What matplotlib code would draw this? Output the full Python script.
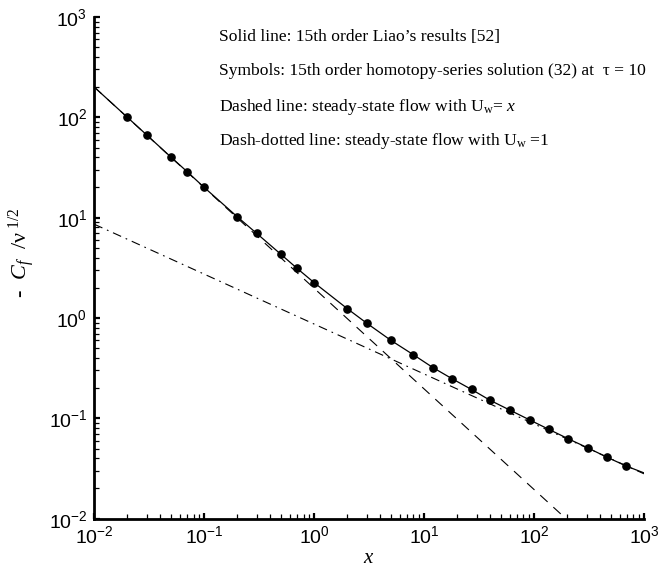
import matplotlib
matplotlib.use("Agg")
import matplotlib.pyplot as plt
from matplotlib.ticker import LogLocator, NullFormatter

plt.rcParams["font.family"] = ["Liberation Sans", "DejaVu Sans"]
plt.rcParams["mathtext.fontset"] = "custom"
plt.rcParams["mathtext.rm"] = "Liberation Serif"
plt.rcParams["mathtext.it"] = "Liberation Serif:italic"
plt.rcParams["axes.unicode_minus"] = False

# symbols: 15th order homotopy-series solution
sym_x = [0.02, 0.03, 0.05, 0.07, 0.1, 0.2, 0.3, 0.5, 0.7, 1.0,
         2, 3, 5, 8, 12, 18, 27, 40, 61, 91, 137, 205, 308, 461, 692]
sym_y = [100, 66.7, 40, 28.7, 20, 10.2, 6.97, 4.3, 3.12, 2.25,
         1.24, 0.89, 0.598, 0.43, 0.321, 0.248, 0.194, 0.151, 0.12,
         0.0966, 0.0775, 0.0625, 0.0508, 0.041, 0.0334]

# solid line: Liao's results
solid_x = [0.01, 0.02, 0.03, 0.05, 0.07, 0.1, 0.2, 0.3, 0.5, 0.7, 1.0,
           2, 3, 5, 8, 12, 18, 27, 40, 61, 91, 137, 205, 308, 461, 692, 1000]
solid_y = [200, 100, 66.7, 40, 28.7, 20, 10.2, 6.97, 4.3, 3.12, 2.25,
           1.24, 0.89, 0.598, 0.43, 0.321, 0.248, 0.194, 0.151, 0.12,
           0.0966, 0.0775, 0.0625, 0.0508, 0.041, 0.0334, 0.0286]

# steady-state flows
dash_x = [0.01, 195]
dash_y = [200, 0.01]
dashdot_x = [0.01, 1000]
dashdot_y = [8.6, 0.028]

fig = plt.figure(figsize=(6.58, 5.72), dpi=100)
ax = fig.add_axes([0.1433, 0.0932, 0.8354, 0.8771])

ax.plot(solid_x, solid_y, color="black", lw=0.9)
ax.plot(dash_x, dash_y, color="black", lw=0.8, dashes=(9, 7))
ax.plot(dashdot_x, dashdot_y, color="black", lw=0.8, dashes=(8, 4.5, 1.5, 4.5))
ax.plot(sym_x, sym_y, "o", color="black", ms=5.2)

ax.set_xscale("log")
ax.set_yscale("log")
ax.set_xlim(1e-2, 1e3)
ax.set_ylim(1e-2, 1e3)

for side in ["top", "right"]:
    ax.spines[side].set_visible(False)
for side in ["left", "bottom"]:
    ax.spines[side].set_linewidth(2.0)

ax.xaxis.set_major_locator(LogLocator(base=10, numticks=10))
ax.yaxis.set_major_locator(LogLocator(base=10, numticks=10))
ax.xaxis.set_minor_locator(LogLocator(base=10, subs=range(2, 10), numticks=20))
ax.yaxis.set_minor_locator(LogLocator(base=10, subs=range(2, 10), numticks=20))
ax.xaxis.set_minor_formatter(NullFormatter())
ax.yaxis.set_minor_formatter(NullFormatter())
ax.tick_params(which="major", direction="in", length=4.5, width=1.6, labelsize=14, pad=5)
ax.tick_params(which="minor", direction="in", length=3.5, width=0.9)

ax.set_xlabel("$x$", fontsize=15, labelpad=0)
ax.set_ylabel("-  $C_f$  /ν$^{\\ 1/2}$", fontsize=16, family="Liberation Serif")
ax.yaxis.set_label_coords(-0.105, 0.53)

txt = dict(family="Liberation Serif", fontsize=12.6, va="center", ha="left")
fig.text(0.333, 0.935, "Solid line: 15th order Liao’s results [52]", **txt)
fig.text(0.333, 0.876, "Symbols: 15th order homotopy-series solution (32) at  τ = 10", **txt)
fig.text(0.333, 0.813, "Dashed line: steady-state flow with U$_{\\mathrm{w}}$= $x$", **txt)
fig.text(0.333, 0.753, "Dash-dotted line: steady-state flow with U$_{\\mathrm{w}}$ =1", **txt)

fig.savefig("out.png", dpi=100)
